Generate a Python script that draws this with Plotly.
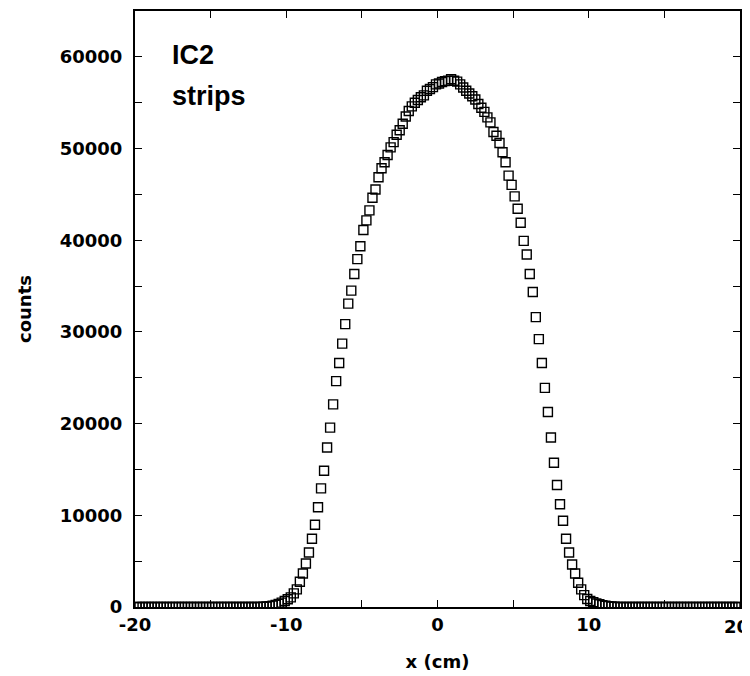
import plotly.graph_objects as go

# strip centres (cm), 0.2 cm pitch
x_cm = [round(-19.9 + 0.2 * i, 1) for i in range(200)]

counts_left_tail = [0] * 41          # -19.9 ... -11.9
counts_core = [
    15, 30, 60, 100, 150, 230, 340, 480, 650,            # -11.7 .. -10.1
    850, 1050, 1490, 1920, 2750,                         # -9.9 .. -9.1
    3660, 4740, 5940, 7450, 8970,                        # -8.9 .. -8.1
    10880, 12940, 14860, 17390, 19560,                   # -7.9 .. -7.1
    22100, 24630, 26610, 28720, 30850,                   # -6.9 .. -6.1
    33090, 34500, 36310, 37940, 39350,                   # -5.9 .. -5.1
    41120, 42170, 43260, 44630, 45540,                   # -4.9 .. -4.1
    46870, 47850, 48500, 49290, 50130,                   # -3.9 .. -3.1
    50700, 51500, 52000, 52700, 53500,                   # -2.9 .. -2.1
    54100, 54600, 55000, 55300, 55600,                   # -1.9 .. -1.1
    55800, 56300, 56500, 56700, 57000,                   # -0.9 .. -0.1
    57100, 57250, 57350, 57400, 57550,                   # 0.1 .. 0.9
    57400, 57300, 57000, 56650, 56300,                   # 1.1 .. 1.9
    56000, 55700, 55350, 54850, 54450,                   # 2.1 .. 2.9
    54000, 53400, 52850, 51800, 51400,                   # 3.1 .. 3.9
    50600, 49600, 48500, 47050, 46040,                   # 4.1 .. 4.9
    44780, 43430, 41910, 39930, 38440,                   # 5.1 .. 5.9
    36310, 34360, 31610, 29220, 26610,                   # 6.1 .. 6.9
    23900, 21270, 18480, 15730, 13310,                   # 7.1 .. 7.9
    11210, 9410, 7450, 5940, 4630,                       # 8.1 .. 8.9
    3660, 2640, 1920, 1300, 870,                         # 9.1 .. 9.9
    650, 510, 380, 300, 200, 130, 90, 50, 25,            # 10.1 .. 11.7
]
counts_right_tail = [0] * 41         # 11.9 ... 19.9
counts = counts_left_tail + counts_core + counts_right_tail
assert len(counts) == len(x_cm)

x_tickvals = [-20, -15, -10, -5, 0, 5, 10, 15, 20]
x_ticktext = ["-20", "", "-10", "", "0", "", "10", "", ""]
x_edge_label = ("20", 20)   # last x label, drawn as annotation so it is not hidden
y_tickvals = [0, 5000, 10000, 15000, 20000, 25000, 30000, 35000, 40000,
              45000, 50000, 55000, 60000, 65000]
y_ticktext = ["0", "", "10000", "", "20000", "", "30000", "", "40000",
              "", "50000", "", "60000", ""]

FONT = "DejaVu Sans"
ANN_FONT = "Liberation Sans"

fig = go.Figure()
fig.add_trace(go.Scatter(
    x=x_cm, y=counts, mode="markers",
    marker=dict(symbol="square-open", size=9, color="black",
                line=dict(color="black", width=1.4)),
    cliponaxis=True, showlegend=False,
))

axis_common = dict(
    showgrid=False, zeroline=False, showline=True, linecolor="black",
    linewidth=2, mirror="ticks", ticks="inside", ticklen=7, tickwidth=1,
    tickcolor="black",
    tickfont=dict(family=FONT, size=18, color="black", weight="bold"),
)

fig.update_xaxes(
    range=[-20, 20], tickmode="array", tickvals=x_tickvals,
    ticktext=x_ticktext, ticklabelstandoff=0,
    title=dict(text="x (cm)", standoff=22,
               font=dict(family=FONT, size=18, color="black", weight="bold")),
    **axis_common,
)
fig.update_yaxes(
    range=[0, 65000], tickmode="array", tickvals=y_tickvals,
    ticktext=y_ticktext, ticklabelstandoff=7,
    title=dict(text="counts", standoff=23,
               font=dict(family=FONT, size=18, color="black", weight="bold")),
    **axis_common,
)

fig.add_annotation(
    xref="x", yref="paper", x=x_edge_label[1], y=0, xanchor="center",
    yanchor="top", xshift=-4, yshift=-7, showarrow=False,
    text=x_edge_label[0],
    font=dict(family=FONT, size=18, color="black", weight="bold"),
)

fig.add_annotation(
    xref="paper", yref="paper", x=0.058, y=0.926, xanchor="left",
    yanchor="middle", showarrow=False, align="left",
    text="IC2", font=dict(family=ANN_FONT, size=27, color="black", weight="bold"),
)
fig.add_annotation(
    xref="paper", yref="paper", x=0.058, y=0.857, xanchor="left",
    yanchor="middle", showarrow=False, align="left",
    text="strips", font=dict(family=ANN_FONT, size=27, color="black", weight="bold"),
)

fig.update_layout(
    width=742, height=668,
    margin=dict(l=127, r=10, t=1, b=69),
    paper_bgcolor="white", plot_bgcolor="white",
)

fig.write_html("out.html")
